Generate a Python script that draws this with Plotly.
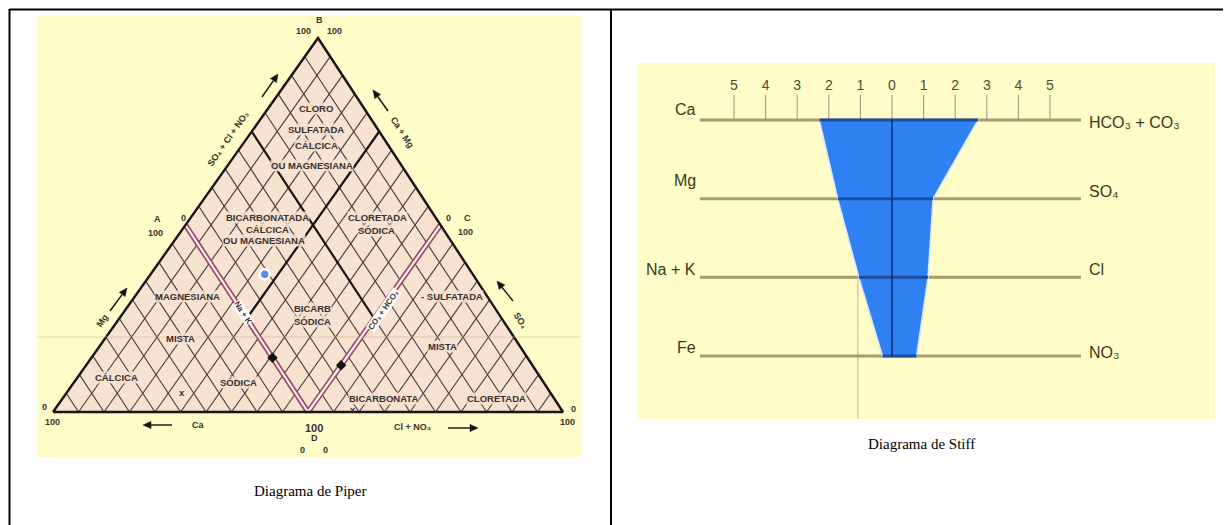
import math
import plotly.graph_objects as go

# ---------------- data ----------------
# Stiff diagram (meq/L)
stiff_cations = ["Ca", "Mg", "Na + K", "Fe"]
stiff_anions = ["HCO₃ + CO₃", "SO₄", "Cl", "NO₃"]
cation_meq = [2.3, 1.72, 1.05, 0.3]
anion_meq = [2.72, 1.3, 1.14, 0.78]
scale_values = [-5, -4, -3, -2, -1, 0, 1, 2, 3, 4, 5]
scale_text = ["5", "4", "3", "2", "1", "0", "1", "2", "3", "4", "5"]
guide_meq = -1.08

# Piper diagram (percent of left, right, top corners)
grid_percent = [5, 10, 15, 20, 25, 30, 35, 40, 45, 50, 55, 60, 65, 70, 75, 80, 85, 90, 95]
sample_pct = [40.8, 22.4, 36.8]
axis_markers_pct = [[50.0, 35.5, 14.5], [37.5, 50.0, 12.5]]
region_names = ["CLORO", "SULFATADA", "CÁLCICA", "OU MAGNESIANA",
                "BICARBONATADA", "CÁLCICA", "OU MAGNESIANA",
                "CLORETADA", "SÓDICA", "MAGNESIANA", "BICARB", "SÓDICA",
                "- SULFATADA", "MISTA", "MISTA", "CÁLCICA", "SÓDICA", "x",
                "BICARBONATA", "x", "CLORETADA"]

# ---------------- page geometry (screen pixels; body margin is 8 px) ----------------
OFF = 8
W, H = 1231 - OFF, 525 - OFF
def X(px): return (px - OFF) / W
def Y(py): return 1 - (py - OFF) / H

YELLOW = "#fffcc8"
PINK = "#f8e2d0"
GRID = "#4e3d3d"
PL, PR, PB, PTX, PTY = 53, 563, 412, 318, 38
FW, FH = PR - PL, PB - PTY
TX = (PTX - PL) / FW

def tern(a, b, c):
    s = a + b + c
    a, b, c = a / s, b / s, c / s
    return b + c * TX, c

def seg(points_list):
    xs, ys = [], []
    for pts in points_list:
        for p in pts:
            x, y = tern(*p)
            xs.append(x); ys.append(y)
        xs.append(None); ys.append(None)
    return xs, ys

fig = go.Figure()
P = dict(xaxis="x", yaxis="y", hoverinfo="skip", showlegend=False)
S = dict(xaxis="x2", yaxis="y2", hoverinfo="skip", showlegend=False)

# ---- Piper ----
corners = [(100, 0, 0), (0, 100, 0), (0, 0, 100), (100, 0, 0)]
tx, ty = seg([corners])
fig.add_trace(go.Scatter(x=tx, y=ty, mode="lines", fill="toself", fillcolor=PINK,
                         line=dict(width=0), **P))
lines = []
for k in grid_percent:
    lines.append([(100 - k, k, 0), (0, k, 100 - k)])
    lines.append([(k, 100 - k, 0), (k, 0, 100 - k)])
gx, gy = seg(lines)
fig.add_trace(go.Scatter(x=gx, y=gy, mode="lines", line=dict(color=GRID, width=1.15), **P))
cx, cy = seg([[(25, 0, 75), (25, 50, 25)], [(0, 25, 75), (50, 25, 25)]])
fig.add_trace(go.Scatter(x=cx, y=cy, mode="lines", line=dict(color="#1a1414", width=2.2), **P))
dx, dy = seg([[(50, 0, 50), (50, 50, 0)], [(0, 50, 50), (50, 50, 0)]])
fig.add_trace(go.Scatter(x=dx, y=dy, mode="lines", line=dict(color="#9a4563", width=5.5), **P))
fig.add_trace(go.Scatter(x=dx, y=dy, mode="lines", line=dict(color="#fff4f4", width=2.2), **P))
fig.add_trace(go.Scatter(x=tx, y=ty, mode="lines", line=dict(color="#1a1414", width=2.4), **P))
mx, my = zip(*[tern(*p) for p in axis_markers_pct])
fig.add_trace(go.Scatter(x=list(mx), y=list(my), mode="markers",
                         marker=dict(symbol="diamond", size=8, color="#111111"), **P))
sx, sy = tern(*sample_pct)
fig.add_trace(go.Scatter(x=[sx], y=[sy], mode="markers",
                         marker=dict(size=10, color="#5a8ee8", line=dict(color="#ffffff", width=2.5)), **P))

# ---- Stiff ----
nrow = len(stiff_cations)
fig.add_trace(go.Scatter(x=[guide_meq, guide_meq], y=[0, 3.8], mode="lines",
                         line=dict(color="#b8b5a0", width=1), **S))
hx, hy = [], []
for i in range(nrow):
    hx += [-6.08, 5.98, None]; hy += [i, i, None]
fig.add_trace(go.Scatter(x=hx, y=hy, mode="lines", line=dict(color="#a39f6c", width=3), **S))
kx, ky = [], []
for v in scale_values:
    kx += [v, v, None]; ky += [-0.32, 0, None]
fig.add_trace(go.Scatter(x=kx, y=ky, mode="lines", line=dict(color="#98957a", width=1), **S))
px_ = [-c for c in cation_meq] + list(reversed(anion_meq)) + [-cation_meq[0]]
py_ = list(range(nrow)) + list(reversed(range(nrow))) + [0]
fig.add_trace(go.Scatter(x=px_, y=py_, mode="lines", fill="toself", fillcolor="#2f80f2",
                         line=dict(color="#d5e5fb", width=1.5), **S))
bx, by = [], []
for i in range(nrow):
    bx += [-cation_meq[i], anion_meq[i], None]; by += [i, i, None]
fig.add_trace(go.Scatter(x=bx, y=by, mode="lines", line=dict(color="#1d4e9e", width=3), **S))
fig.add_trace(go.Scatter(x=[0, 0], y=[0, nrow - 1], mode="lines",
                         line=dict(color="#0c2c72", width=1.5), **S))
fig.add_trace(go.Scatter(x=scale_values, y=[-0.42] * len(scale_values), mode="text",
                         text=scale_text, textfont=dict(family="Liberation Sans Narrow, Liberation Sans, sans-serif",
                                                        size=14, color="#4d4b2c"), **S))

# ---------------- annotations & shapes ----------------
ann, shapes = [], []
def A(text, px, py, size=10, color="#3a3030", angle=0, family="Liberation Sans, DejaVu Sans, sans-serif",
      bg=None, xanchor="center", yanchor="middle"):
    d = dict(text=text, x=X(px), y=Y(py), xref="paper", yref="paper", showarrow=False,
             font=dict(size=size, color=color, family=family), textangle=angle,
             xanchor=xanchor, yanchor=yanchor, borderpad=0)
    if bg:
        d["bgcolor"] = bg
    ann.append(d)

def LINE(x0, y0, x1, y1, color, width, layer="above"):
    shapes.append(dict(type="line", xref="paper", yref="paper", x0=X(x0), x1=X(x1),
                       y0=Y(y0), y1=Y(y1), line=dict(color=color, width=width), layer=layer))

def RECT(x0, y0, x1, y1, color, layer="below"):
    shapes.append(dict(type="rect", xref="paper", yref="paper", x0=X(x0), x1=X(x1),
                       y0=Y(y1), y1=Y(y0), fillcolor=color, line=dict(width=0), layer=layer))

def ARROW(x0, y0, x1, y1, head=8, half=3.6):
    L = math.hypot(x1 - x0, y1 - y0)
    ux, uy = (x1 - x0) / L, (y1 - y0) / L
    bxp, byp = x1 - ux * head, y1 - uy * head
    LINE(x0, y0, bxp, byp, "#111111", 1.4)
    pts = [(x1, y1), (bxp - uy * half, byp + ux * half), (bxp + uy * half, byp - ux * half)]
    path = "M " + " L ".join(f"{X(a):.5f},{Y(b):.5f}" for a, b in pts) + " Z"
    shapes.append(dict(type="path", xref="paper", yref="paper", path=path,
                       fillcolor="#111111", line=dict(color="#111111", width=0.5), layer="above"))

region_pos = [(316, 108), (316, 129), (316, 146), (312, 166),
              (267, 218), (267, 229), (264, 240),
              (377, 218), (376, 230), (187, 296), (312, 308), (312, 321),
              (452, 296), (180, 338), (443, 346), (116, 377), (238, 382), (182, 392),
              (383, 398), (353, 409), (496, 398)]
LBG = "rgba(248,226,208,0.85)"
for name, (x, y) in zip(region_names, region_pos):
    A("<b>" + name + "</b>", x, y, size=9.5, bg=LBG if name != "x" else None)

# corner / axis labels of Piper
A("<b>B</b>", 319, 20, size=9)
A("<b>100</b>", 303, 31, size=9)
A("<b>100</b>", 335, 31, size=9)
A("<b>A</b>", 157, 219, size=9)
A("<b>100</b>", 155, 233, size=9)
A("<b>0</b>", 183, 218, size=9)
A("<b>0</b>", 448, 218, size=9)
A("<b>C</b>", 467, 218, size=9)
A("<b>100</b>", 465, 232, size=9)
A("<b>0</b>", 44, 407, size=9)
A("<b>100</b>", 52, 422, size=9)
A("<b>0</b>", 573, 409, size=9)
A("<b>100</b>", 567, 422, size=9)
A("<b>100</b>", 314, 428, size=11)
A("<b>D</b>", 314, 438, size=9)
A("<b>0</b>", 302, 450, size=9)
A("<b>0</b>", 326, 450, size=9)
A("<b>Ca</b>", 198, 425, size=9)
A("<b>Cl + NO₃</b>", 412, 427, size=9)
A("<b>SO₄ + Cl + NO₃</b>", 228, 139, size=9, angle=-55)
A("<b>Ca + Mg</b>", 402, 132, size=9, angle=57)
A("<b>Mg</b>", 102, 321, size=9, angle=-55)
A("<b>SO₄</b>", 520, 320, size=9, angle=57)
A("<b>Na + K</b>", 243, 312, size=8, angle=57, bg="#ffffff")
A("<b>CO₃ + HCO₃</b>", 383, 310, size=8, angle=-55, bg="#ffffff")
ARROW(172, 425, 143, 425)
ARROW(448, 428, 478, 428)
ARROW(262, 97, 278, 74)
ARROW(388, 111, 373, 90)
ARROW(110, 311, 127, 288)
ARROW(513, 301, 497, 281)

# Stiff labels
NARROW = "Liberation Sans Narrow, Liberation Sans, DejaVu Sans, sans-serif"
for name, y in zip(stiff_cations, [109, 180, 269, 347]):
    A(name, 697, y, size=16, color="#3a3820", family=NARROW, xanchor="right")
for name, y in zip(stiff_anions, [122, 192, 269, 352]):
    A(name, 1088, y, size=16, color="#3a3820", family=NARROW, xanchor="left")

# captions
A("Diagrama de Piper", 310, 491, size=15, color="#000000", family="Liberation Serif, Times New Roman, serif")
A("Diagrama de Stiff", 921, 444, size=15, color="#000000", family="Liberation Serif, Times New Roman, serif")

RECT(37, 16, 581, 457, YELLOW)
RECT(638, 63, 1215, 419, YELLOW)
LINE(37, 337, 581, 337, "rgba(190,185,140,0.55)", 1)
LINE(9.5, 9.5, 1231, 9.5, "#000000", 2)
LINE(9.5, 9, 9.5, 525, "#000000", 2)
LINE(611, 9, 611, 525, "#000000", 2)

ax_off = dict(visible=False, showgrid=False, zeroline=False, fixedrange=True)
fig.update_layout(
    width=W, height=H, margin=dict(l=0, r=0, t=0, b=0),
    paper_bgcolor="#ffffff", plot_bgcolor="rgba(0,0,0,0)",
    showlegend=False, annotations=ann, shapes=shapes,
    xaxis=dict(domain=[X(37), X(581)], range=[(37 - PL) / FW, (581 - PL) / FW], anchor="y", **ax_off),
    yaxis=dict(domain=[Y(457), Y(16)], range=[(PB - 457) / FH, (PB - 16) / FH], anchor="x", **ax_off),
    xaxis2=dict(domain=[X(638), X(1215)], range=[(638 - 892) / 31.6, (1215 - 892) / 31.6], anchor="y2", **ax_off),
    yaxis2=dict(domain=[Y(120 + 3.83 * 78.67), Y(120 - 0.9 * 78.67)], range=[3.83, -0.9], anchor="x2", **ax_off),
)
fig.write_html("out.html")
